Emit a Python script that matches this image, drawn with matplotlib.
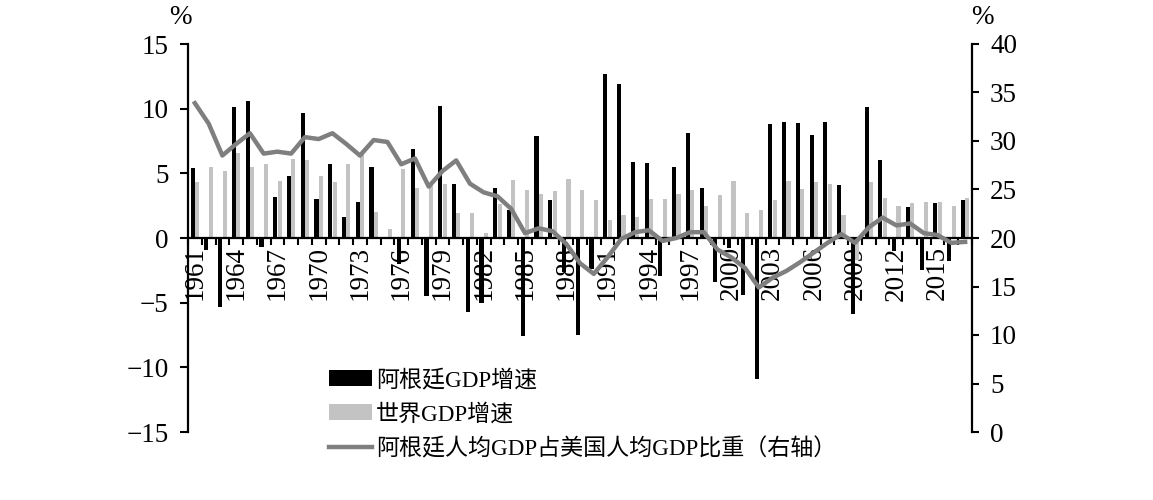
import numpy as np
import matplotlib
matplotlib.use("Agg")
import matplotlib.pyplot as plt

plt.rcParams['font.family'] = ['Liberation Serif', 'Noto Sans CJK SC']
plt.rcParams['axes.unicode_minus'] = True

years = list(range(1961, 2018))

# 阿根廷GDP增速 (%)
arg_growth = [5.4, -0.9, -5.3, 10.1, 10.6, -0.7, 3.2, 4.8, 9.7, 3.0,
              5.7, 1.6, 2.8, 5.5, 0.0, -2.0, 6.9, -4.5, 10.2, 4.2,
              -5.7, -5.0, 3.9, 2.2, -7.6, 7.9, 2.9, -2.6, -7.5, -2.4,
              12.7, 11.9, 5.9, 5.8, -2.9, 5.5, 8.1, 3.9, -3.4, -0.8,
              -4.4, -10.9, 8.8, 9.0, 8.9, 8.0, 9.0, 4.1, -5.9, 10.1,
              6.0, -1.0, 2.4, -2.5, 2.7, -1.8, 2.9]

# 世界GDP增速 (%)
world_growth = [4.3, 5.5, 5.2, 6.6, 5.5, 5.7, 4.4, 6.1, 6.0, 4.8,
                4.3, 5.7, 6.5, 2.0, 0.7, 5.3, 3.9, 4.1, 4.2, 1.9,
                1.9, 0.4, 2.6, 4.5, 3.7, 3.4, 3.6, 4.6, 3.7, 2.9,
                1.4, 1.8, 1.6, 3.0, 3.0, 3.4, 3.7, 2.5, 3.3, 4.4,
                1.9, 2.2, 2.9, 4.4, 3.8, 4.3, 4.2, 1.8, -1.7, 4.3,
                3.1, 2.5, 2.7, 2.8, 2.8, 2.5, 3.1]

# 阿根廷人均GDP占美国人均GDP比重 (%, 右轴)
ratio = [33.9, 31.8, 28.5, 29.7, 30.8, 28.7, 28.9, 28.7, 30.4, 30.2,
         30.8, 29.7, 28.5, 30.1, 29.9, 27.6, 28.2, 25.3, 26.9, 28.0,
         25.6, 24.7, 24.3, 23.0, 20.5, 21.0, 20.7, 19.4, 17.4, 16.3,
         18.0, 19.9, 20.6, 20.8, 19.7, 20.0, 20.6, 20.6, 18.8, 18.0,
         16.9, 14.9, 15.9, 16.6, 17.5, 18.5, 19.5, 20.4, 19.5, 21.1,
         22.1, 21.3, 21.5, 20.5, 20.3, 19.5, 19.6]

x = np.arange(len(years))
fs = 19.5

fig = plt.figure(figsize=(11.53, 5), dpi=100)
ax = fig.add_axes([188/1153, 1-432/500, (972-188)/1153, (432-44)/500])

bw = 0.3
b1 = ax.bar(x - 0.16, arg_growth, width=bw, color='black', label='阿根廷GDP增速', zorder=2)
b2 = ax.bar(x + 0.16, world_growth, width=bw, color='#c3c3c3', label='世界GDP增速', zorder=2)

ax.set_xlim(-0.5, len(years) - 0.5)
ax.set_ylim(-15, 15)
ax.set_yticks(range(-15, 16, 5))

ax.spines['top'].set_visible(False)
ax.spines['right'].set_visible(False)
ax.spines['bottom'].set_position(('data', 0))
for s in ['left', 'bottom']:
    ax.spines[s].set_linewidth(1.6)

ax.set_xticks(x[::3])
ax.set_xticklabels([str(y) for y in years[::3]], rotation=90)
ax.set_xticks(np.arange(-0.5, len(years), 1), minor=True)
ax.tick_params(axis='x', which='major', length=0, pad=6, labelsize=fs)
ax.tick_params(axis='x', which='minor', length=5, width=1.5, direction='out')
ax.tick_params(axis='y', length=6, width=1.5, direction='out', labelsize=fs, pad=8)

ax2 = ax.twinx()
ln, = ax2.plot(x, ratio, color='#7f7f7f', lw=3.2, label='阿根廷人均GDP占美国人均GDP比重（右轴）', zorder=3)
ax2.set_ylim(0, 40)
ax2.set_yticks(range(0, 41, 5))
ax2.spines['top'].set_visible(False)
ax2.spines['left'].set_visible(False)
ax2.spines['bottom'].set_visible(False)
ax2.spines['right'].set_linewidth(1.6)
ax2.tick_params(axis='y', length=5, width=1.5, direction='out', labelsize=fs, pad=8)

fig.text(180/1153, 1-17/500, '%', fontsize=fs, ha='center', va='center')
fig.text(982/1153, 1-17/500, '%', fontsize=fs, ha='center', va='center')

fig.legend(handles=[b1, b2, ln], loc='upper left',
           bbox_to_anchor=(329/1153, 1-369/500), frameon=False,
           fontsize=16.6, handlelength=1.85, handletextpad=0.2,
           labelspacing=0.55, borderpad=0, borderaxespad=0)

fig.savefig('out.png', dpi=100)
